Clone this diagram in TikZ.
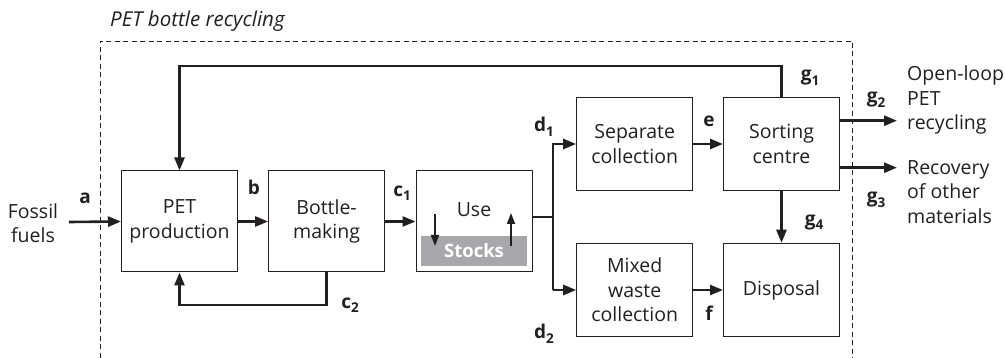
\documentclass[tikz,border=0pt]{standalone}
\usepackage{fontspec}
\setmainfont{Open Sans}
\usetikzlibrary{arrows.meta}
\definecolor{ink}{HTML}{231F20}
\definecolor{stockgray}{HTML}{A7A8AB}
\tikzset{
  box/.style={draw=ink, line width=1pt, minimum width=116pt, inner sep=0pt, align=center, text=ink, font=\fontsize{19.5}{24.5}\selectfont},
  bigbox/.style={box, minimum height=101pt},
  smallbox/.style={box, minimum height=93.5pt},
  flow/.style={draw=ink, line width=2.6pt, -{Triangle[length=13pt,width=10pt]}},
  plainflow/.style={draw=ink, line width=2.6pt},
  thinflow/.style={draw=ink, line width=1.8pt, -{Triangle[length=11pt,width=8pt]}},
  lbl/.style={text=ink, font=\fontsize{19}{20}\selectfont\bfseries, inner sep=0pt},
  txt/.style={text=ink, font=\fontsize{19.5}{24.5}\selectfont, inner sep=0pt},
}
\newcommand{\sub}[2]{#1\raisebox{-4.5pt}{\fontsize{13.5}{13.5}\selectfont\bfseries #2}}
\begin{document}
\begin{tikzpicture}[x=1pt,y=-1pt]
\useasboundingbox (0,0) rectangle (1005,358);
% system boundary
\draw[ink, line width=0.9pt, dash pattern=on 5pt off 3.5pt] (100,358) -- (100,41) -- (852,41) -- (852,358);
\node[txt, font=\fontsize{20.5}{22}\selectfont\itshape, anchor=west] (title) at (110,21) {PET bottle recycling};

% boxes
\node[bigbox] (pet) at (179.5,221.5) {PET\\production};
\node[bigbox] (bottle) at (326.6,221.5) {Bottle-\\making};
\node[bigbox] (use) at (474,221.5) {};
\node[txt] (usetxt) at (474,210) {Use};
\node[fill=stockgray, minimum width=106pt, minimum height=30pt, inner sep=0pt, text=white, font=\fontsize{18.5}{20}\selectfont\bfseries] (stocks) at (474,251) {Stocks};
\node[smallbox] (sep) at (634.7,144) {Separate\\collection};
\node[smallbox] (mix) at (634.7,290) {Mixed\\waste\\collection};
\node[smallbox] (sort) at (781.5,144) {Sorting\\centre};
\node[smallbox] (disp) at (781.5,290) {Disposal};

% outside texts
\node[txt, align=center] (fossil) at (33,223) {Fossil\\fuels};
\node[txt, align=left, anchor=west] (openloop) at (907,100) {Open-loop\\PET\\recycling};
\node[txt, align=left, anchor=west] (recovery) at (907,192) {Recovery\\of other\\materials};

% coordinates
\coordinate (astart) at (69,222);
\coordinate (g2end) at (897,120.7);
\coordinate (g3end) at (897,167.7);
\coordinate (topL) at (179.5,66);
\coordinate (topR) at (781.5,66);
\coordinate (c2L) at (179.5,305);
\coordinate (c2R) at (326.6,305);
\coordinate (split) at (553,217);
\coordinate (splitT) at (553,144);
\coordinate (splitB) at (553,290);
\coordinate (dnA) at (435,214);
\coordinate (dnB) at (435,246);
\coordinate (upA) at (511,246);
\coordinate (upB) at (511,213);

% flows
\draw[flow] (astart) -- (pet.west);
\draw[flow] (pet.east) -- (bottle.west);
\draw[flow] (bottle.east) -- (use.west);
\draw[flow] (sort.north) -- (topR) -- (topL) -- (pet.north);
\draw[flow] (bottle.south) -- (c2R) -- (c2L) -- (pet.south);
\draw[plainflow] (use.east |- split) -- (split);
\draw[flow] (splitB) -- (splitT) -- (sep.west);
\draw[flow] (splitT |- splitB) -- (mix.west);
\draw[flow] (sep.east) -- (sort.west);
\draw[flow] (mix.east) -- (disp.west);
\draw[flow] (sort.south) -- (disp.north);
\draw[flow] (sort.east |- g2end) -- (g2end);
\draw[flow] (sort.east |- g3end) -- (g3end);
\draw[thinflow] (dnA) -- (dnB);
\draw[thinflow] (upA) -- (upB);

% labels
\node[lbl] (la) at (85,198) {a};
\node[lbl] (lb) at (254,187) {b};
\node[lbl] (lc1) at (402,193) {\sub{c}{1}};
\node[lbl] (lc2) at (350,305) {\sub{c}{2}};
\node[lbl] (ld1) at (544,127) {\sub{d}{1}};
\node[lbl] (ld2) at (544,334) {\sub{d}{2}};
\node[lbl] (le) at (709,121) {e};
\node[lbl] (lf) at (709,313) {f};
\node[lbl] (lg1) at (810,78) {\sub{g}{1}};
\node[lbl] (lg2) at (876,100) {\sub{g}{2}};
\node[lbl] (lg3) at (876,200) {\sub{g}{3}};
\node[lbl] (lg4) at (814,222) {\sub{g}{4}};
\end{tikzpicture}
\end{document}
